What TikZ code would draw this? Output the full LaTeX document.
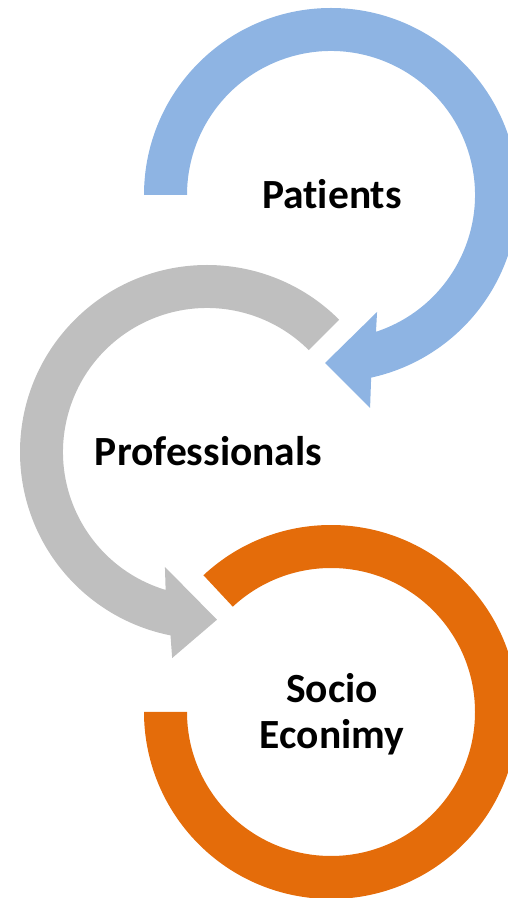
\documentclass[tikz,border=0pt]{standalone}
\usepackage{fontspec}
\setmainfont{Carlito}[Ligatures=NoCommon]
\usepackage{tikz}
\usetikzlibrary{positioning}

\definecolor{patblue}{HTML}{8EB4E3}
\definecolor{progray}{HTML}{BFBFBF}
\definecolor{socorange}{HTML}{E46C0A}

\tikzset{
    lbl/.style={font=\fontsize{41.5}{46}\selectfont\bfseries, align=center, inner sep=0pt}
}

\begin{document}
\begin{tikzpicture}[x=1pt,y=1pt]

\useasboundingbox (0,0) rectangle (508,898);
\clip (0,0) rectangle (508,898);

\coordinate (pc) at (331,703);
\coordinate (rc) at (207,446);
\coordinate (sc) at (331,186);

% patients
\fill[patblue, shift={(pc)}] (180:187) arc[start angle=180, end angle=-77.6, radius=187]
    -- (-79.6:216.5) -- (-92:168) -- (-68.5:125.7) -- (-71.8:144)
    arc[start angle=-71.8, end angle=180, radius=144] -- cycle;

% professionals
\fill[progray, shift={(rc)}] (45:187) arc[start angle=45, end angle=258.75, radius=187]
    -- (260.4:209) -- (273.4:168) -- (249.9:122.4) -- (253.3:144)
    arc[start angle=253.3, end angle=45, radius=144] -- cycle;

% socio economy
\fill[socorange, shift={(sc)}] (133:187) arc[start angle=133, end angle=-180, radius=187]
    -- (180:144) arc[start angle=-180, end angle=133, radius=144] -- cycle;

\node[lbl, anchor=base] (patients) at (332,689) {Patients};
\node[lbl, anchor=base] (profs) at (208.5,432) {Professionals};
\node[lbl] (socio) at (332,184) {Socio\\Econimy};

\end{tikzpicture}
\end{document}
